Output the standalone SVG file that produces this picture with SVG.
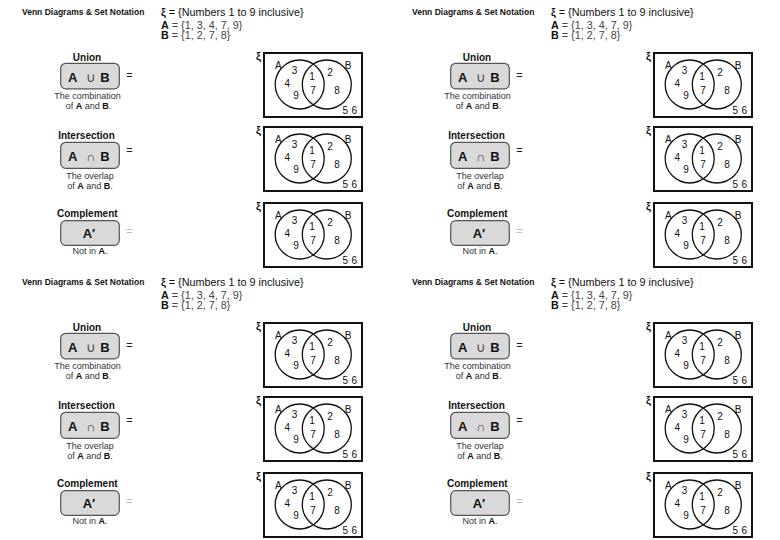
<svg xmlns="http://www.w3.org/2000/svg" width="780" height="540" viewBox="0 0 780 540">
<style>
text{font-family:"Liberation Sans",Arial,sans-serif}
.h{font-size:8.5px;font-weight:bold;fill:#111}
.set{font-size:10.8px;fill:#111}
.lt{fill:#444}
.b{font-weight:bold;fill:#111}
.t{font-size:10px;font-weight:bold;fill:#111;text-anchor:middle}
.box{fill:#d9d9d9;stroke:#555;stroke-width:1.2}
.op{font-size:13px;font-weight:bold;fill:#111;text-anchor:middle}
.sym{font-size:12.5px;fill:#444;text-anchor:middle}
.eq{font-size:11px;fill:#222;text-anchor:middle}
.eq2{font-size:11px;fill:#bbb;text-anchor:middle}
.cap{font-size:9px;fill:#333;text-anchor:middle}
.vb{fill:none;stroke:#111;stroke-width:2}
.vc{fill:none;stroke:#111;stroke-width:1.3}
.vt{font-size:10px;fill:#111;text-anchor:middle}
.xi{font-size:11px;font-weight:bold;fill:#111}
</style>
<defs>
<g id="vshape">
<rect class="vb" x="0" y="0" width="98" height="64"/>
<circle class="vc" cx="35.7" cy="31.5" r="24.5"/>
<circle class="vc" cx="62.8" cy="31.5" r="24.5"/>
</g>
</defs>
<rect width="780" height="540" fill="#fff"/>
<g id="connectors"/>

<!-- TILE 1 -->
<g id="t1">
<g id="t1-header">
<text class="h" x="22" y="14.5">Venn Diagrams &amp; Set Notation</text>
<text class="set" x="161" y="15.5"><tspan class="b">ξ</tspan> = {Numbers 1 to 9 inclusive}</text>
<text class="set" x="161" y="28.5"><tspan class="b">A</tspan><tspan class="lt"> = {1, 3, 4, 7, 9}</tspan></text>
<text class="set" x="161" y="39"><tspan class="b">B</tspan><tspan class="lt"> = {1, 2, 7, 8}</tspan></text>
</g>
<g id="t1-union">
<text class="t" x="87" y="60.5">Union</text>
<rect class="box" x="60.7" y="63.3" width="58.6" height="25.5" rx="5"/>
<text class="op" x="72.7" y="81.5">A</text><text class="sym" x="90.5" y="81.5">∪</text><text class="op" x="105" y="81.5">B</text>
<text class="eq" x="129.5" y="79">=</text>
<text class="cap" x="87.5" y="99">The combination</text>
<text class="cap" x="88.5" y="109">of <tspan class="b">A</tspan> and <tspan class="b">B</tspan>.</text>
</g>
<g id="t1-inter">
<text class="t" x="86.5" y="139">Intersection</text>
<rect class="box" x="60.7" y="142.3" width="58.6" height="26" rx="5"/>
<text class="op" x="72.7" y="161">A</text><text class="sym" x="90.5" y="161">∩</text><text class="op" x="105" y="161">B</text>
<text class="eq" x="129.5" y="153.7">=</text>
<text class="cap" x="90" y="179">The overlap</text>
<text class="cap" x="90" y="189">of <tspan class="b">A</tspan> and <tspan class="b">B</tspan>.</text>
</g>
<g id="t1-comp">
<text class="t" x="87.3" y="217.3">Complement</text>
<rect class="box" x="60.7" y="220.7" width="58.6" height="24.6" rx="5"/>
<text class="op" x="89" y="238">A′</text>
<text class="eq2" x="129.5" y="235.4">=</text>
<text class="cap" x="90" y="254.3">Not in <tspan class="b">A</tspan>.</text>
</g>
<g id="t1-venn1" transform="translate(264,53)">
<use href="#vshape"/>
<text class="xi" x="-8" y="6.5">ξ</text>
<text class="vt" x="14.3" y="16">A</text><text class="vt" x="30.5" y="21.3">3</text><text class="vt" x="48" y="27">1</text><text class="vt" x="66" y="22.7">2</text><text class="vt" x="84" y="16">B</text>
<text class="vt" x="23.3" y="34">4</text><text class="vt" x="49" y="40.5">7</text><text class="vt" x="73" y="41">8</text><text class="vt" x="32" y="45.5">9</text>
<text class="vt" x="81.2" y="61">5</text><text class="vt" x="90.2" y="61">6</text>
</g>
<g id="t1-venn2" transform="translate(264,127)">
<use href="#vshape"/>
<text class="xi" x="-8" y="6.5">ξ</text>
<text class="vt" x="14.3" y="16">A</text><text class="vt" x="30.5" y="21.3">3</text><text class="vt" x="48" y="27">1</text><text class="vt" x="66" y="22.7">2</text><text class="vt" x="84" y="16">B</text>
<text class="vt" x="23.3" y="34">4</text><text class="vt" x="49" y="40.5">7</text><text class="vt" x="73" y="41">8</text><text class="vt" x="32" y="45.5">9</text>
<text class="vt" x="81.2" y="61">5</text><text class="vt" x="90.2" y="61">6</text>
</g>
<g id="t1-venn3" transform="translate(264,203)">
<use href="#vshape"/>
<text class="xi" x="-8" y="6.5">ξ</text>
<text class="vt" x="14.3" y="16">A</text><text class="vt" x="30.5" y="21.3">3</text><text class="vt" x="48" y="27">1</text><text class="vt" x="66" y="22.7">2</text><text class="vt" x="84" y="16">B</text>
<text class="vt" x="23.3" y="34">4</text><text class="vt" x="49" y="40.5">7</text><text class="vt" x="73" y="41">8</text><text class="vt" x="32" y="45.5">9</text>
<text class="vt" x="81.2" y="61">5</text><text class="vt" x="90.2" y="61">6</text>
</g>
</g>

<!-- TILE 2 -->
<g id="t2" transform="translate(390,0)">
<g id="t2-header">
<text class="h" x="22" y="14.5">Venn Diagrams &amp; Set Notation</text>
<text class="set" x="161" y="15.5"><tspan class="b">ξ</tspan> = {Numbers 1 to 9 inclusive}</text>
<text class="set" x="161" y="28.5"><tspan class="b">A</tspan><tspan class="lt"> = {1, 3, 4, 7, 9}</tspan></text>
<text class="set" x="161" y="39"><tspan class="b">B</tspan><tspan class="lt"> = {1, 2, 7, 8}</tspan></text>
</g>
<g id="t2-union">
<text class="t" x="87" y="60.5">Union</text>
<rect class="box" x="60.7" y="63.3" width="58.6" height="25.5" rx="5"/>
<text class="op" x="72.7" y="81.5">A</text><text class="sym" x="90.5" y="81.5">∪</text><text class="op" x="105" y="81.5">B</text>
<text class="eq" x="129.5" y="79">=</text>
<text class="cap" x="87.5" y="99">The combination</text>
<text class="cap" x="88.5" y="109">of <tspan class="b">A</tspan> and <tspan class="b">B</tspan>.</text>
</g>
<g id="t2-inter">
<text class="t" x="86.5" y="139">Intersection</text>
<rect class="box" x="60.7" y="142.3" width="58.6" height="26" rx="5"/>
<text class="op" x="72.7" y="161">A</text><text class="sym" x="90.5" y="161">∩</text><text class="op" x="105" y="161">B</text>
<text class="eq" x="129.5" y="153.7">=</text>
<text class="cap" x="90" y="179">The overlap</text>
<text class="cap" x="90" y="189">of <tspan class="b">A</tspan> and <tspan class="b">B</tspan>.</text>
</g>
<g id="t2-comp">
<text class="t" x="87.3" y="217.3">Complement</text>
<rect class="box" x="60.7" y="220.7" width="58.6" height="24.6" rx="5"/>
<text class="op" x="89" y="238">A′</text>
<text class="eq2" x="129.5" y="235.4">=</text>
<text class="cap" x="90" y="254.3">Not in <tspan class="b">A</tspan>.</text>
</g>
<g id="t2-venn1" transform="translate(264,53)">
<use href="#vshape"/>
<text class="xi" x="-8" y="6.5">ξ</text>
<text class="vt" x="14.3" y="16">A</text><text class="vt" x="30.5" y="21.3">3</text><text class="vt" x="48" y="27">1</text><text class="vt" x="66" y="22.7">2</text><text class="vt" x="84" y="16">B</text>
<text class="vt" x="23.3" y="34">4</text><text class="vt" x="49" y="40.5">7</text><text class="vt" x="73" y="41">8</text><text class="vt" x="32" y="45.5">9</text>
<text class="vt" x="81.2" y="61">5</text><text class="vt" x="90.2" y="61">6</text>
</g>
<g id="t2-venn2" transform="translate(264,127)">
<use href="#vshape"/>
<text class="xi" x="-8" y="6.5">ξ</text>
<text class="vt" x="14.3" y="16">A</text><text class="vt" x="30.5" y="21.3">3</text><text class="vt" x="48" y="27">1</text><text class="vt" x="66" y="22.7">2</text><text class="vt" x="84" y="16">B</text>
<text class="vt" x="23.3" y="34">4</text><text class="vt" x="49" y="40.5">7</text><text class="vt" x="73" y="41">8</text><text class="vt" x="32" y="45.5">9</text>
<text class="vt" x="81.2" y="61">5</text><text class="vt" x="90.2" y="61">6</text>
</g>
<g id="t2-venn3" transform="translate(264,203)">
<use href="#vshape"/>
<text class="xi" x="-8" y="6.5">ξ</text>
<text class="vt" x="14.3" y="16">A</text><text class="vt" x="30.5" y="21.3">3</text><text class="vt" x="48" y="27">1</text><text class="vt" x="66" y="22.7">2</text><text class="vt" x="84" y="16">B</text>
<text class="vt" x="23.3" y="34">4</text><text class="vt" x="49" y="40.5">7</text><text class="vt" x="73" y="41">8</text><text class="vt" x="32" y="45.5">9</text>
<text class="vt" x="81.2" y="61">5</text><text class="vt" x="90.2" y="61">6</text>
</g>
</g>

<!-- TILE 3 -->
<g id="t3" transform="translate(0,270)">
<g id="t3-header">
<text class="h" x="22" y="14.5">Venn Diagrams &amp; Set Notation</text>
<text class="set" x="161" y="15.5"><tspan class="b">ξ</tspan> = {Numbers 1 to 9 inclusive}</text>
<text class="set" x="161" y="28.5"><tspan class="b">A</tspan><tspan class="lt"> = {1, 3, 4, 7, 9}</tspan></text>
<text class="set" x="161" y="39"><tspan class="b">B</tspan><tspan class="lt"> = {1, 2, 7, 8}</tspan></text>
</g>
<g id="t3-union">
<text class="t" x="87" y="60.5">Union</text>
<rect class="box" x="60.7" y="63.3" width="58.6" height="25.5" rx="5"/>
<text class="op" x="72.7" y="81.5">A</text><text class="sym" x="90.5" y="81.5">∪</text><text class="op" x="105" y="81.5">B</text>
<text class="eq" x="129.5" y="79">=</text>
<text class="cap" x="87.5" y="99">The combination</text>
<text class="cap" x="88.5" y="109">of <tspan class="b">A</tspan> and <tspan class="b">B</tspan>.</text>
</g>
<g id="t3-inter">
<text class="t" x="86.5" y="139">Intersection</text>
<rect class="box" x="60.7" y="142.3" width="58.6" height="26" rx="5"/>
<text class="op" x="72.7" y="161">A</text><text class="sym" x="90.5" y="161">∩</text><text class="op" x="105" y="161">B</text>
<text class="eq" x="129.5" y="153.7">=</text>
<text class="cap" x="90" y="179">The overlap</text>
<text class="cap" x="90" y="189">of <tspan class="b">A</tspan> and <tspan class="b">B</tspan>.</text>
</g>
<g id="t3-comp">
<text class="t" x="87.3" y="217.3">Complement</text>
<rect class="box" x="60.7" y="220.7" width="58.6" height="24.6" rx="5"/>
<text class="op" x="89" y="238">A′</text>
<text class="eq2" x="129.5" y="235.4">=</text>
<text class="cap" x="90" y="254.3">Not in <tspan class="b">A</tspan>.</text>
</g>
<g id="t3-venn1" transform="translate(264,53)">
<use href="#vshape"/>
<text class="xi" x="-8" y="6.5">ξ</text>
<text class="vt" x="14.3" y="16">A</text><text class="vt" x="30.5" y="21.3">3</text><text class="vt" x="48" y="27">1</text><text class="vt" x="66" y="22.7">2</text><text class="vt" x="84" y="16">B</text>
<text class="vt" x="23.3" y="34">4</text><text class="vt" x="49" y="40.5">7</text><text class="vt" x="73" y="41">8</text><text class="vt" x="32" y="45.5">9</text>
<text class="vt" x="81.2" y="61">5</text><text class="vt" x="90.2" y="61">6</text>
</g>
<g id="t3-venn2" transform="translate(264,127)">
<use href="#vshape"/>
<text class="xi" x="-8" y="6.5">ξ</text>
<text class="vt" x="14.3" y="16">A</text><text class="vt" x="30.5" y="21.3">3</text><text class="vt" x="48" y="27">1</text><text class="vt" x="66" y="22.7">2</text><text class="vt" x="84" y="16">B</text>
<text class="vt" x="23.3" y="34">4</text><text class="vt" x="49" y="40.5">7</text><text class="vt" x="73" y="41">8</text><text class="vt" x="32" y="45.5">9</text>
<text class="vt" x="81.2" y="61">5</text><text class="vt" x="90.2" y="61">6</text>
</g>
<g id="t3-venn3" transform="translate(264,203)">
<use href="#vshape"/>
<text class="xi" x="-8" y="6.5">ξ</text>
<text class="vt" x="14.3" y="16">A</text><text class="vt" x="30.5" y="21.3">3</text><text class="vt" x="48" y="27">1</text><text class="vt" x="66" y="22.7">2</text><text class="vt" x="84" y="16">B</text>
<text class="vt" x="23.3" y="34">4</text><text class="vt" x="49" y="40.5">7</text><text class="vt" x="73" y="41">8</text><text class="vt" x="32" y="45.5">9</text>
<text class="vt" x="81.2" y="61">5</text><text class="vt" x="90.2" y="61">6</text>
</g>
</g>

<!-- TILE 4 -->
<g id="t4" transform="translate(390,270)">
<g id="t4-header">
<text class="h" x="22" y="14.5">Venn Diagrams &amp; Set Notation</text>
<text class="set" x="161" y="15.5"><tspan class="b">ξ</tspan> = {Numbers 1 to 9 inclusive}</text>
<text class="set" x="161" y="28.5"><tspan class="b">A</tspan><tspan class="lt"> = {1, 3, 4, 7, 9}</tspan></text>
<text class="set" x="161" y="39"><tspan class="b">B</tspan><tspan class="lt"> = {1, 2, 7, 8}</tspan></text>
</g>
<g id="t4-union">
<text class="t" x="87" y="60.5">Union</text>
<rect class="box" x="60.7" y="63.3" width="58.6" height="25.5" rx="5"/>
<text class="op" x="72.7" y="81.5">A</text><text class="sym" x="90.5" y="81.5">∪</text><text class="op" x="105" y="81.5">B</text>
<text class="eq" x="129.5" y="79">=</text>
<text class="cap" x="87.5" y="99">The combination</text>
<text class="cap" x="88.5" y="109">of <tspan class="b">A</tspan> and <tspan class="b">B</tspan>.</text>
</g>
<g id="t4-inter">
<text class="t" x="86.5" y="139">Intersection</text>
<rect class="box" x="60.7" y="142.3" width="58.6" height="26" rx="5"/>
<text class="op" x="72.7" y="161">A</text><text class="sym" x="90.5" y="161">∩</text><text class="op" x="105" y="161">B</text>
<text class="eq" x="129.5" y="153.7">=</text>
<text class="cap" x="90" y="179">The overlap</text>
<text class="cap" x="90" y="189">of <tspan class="b">A</tspan> and <tspan class="b">B</tspan>.</text>
</g>
<g id="t4-comp">
<text class="t" x="87.3" y="217.3">Complement</text>
<rect class="box" x="60.7" y="220.7" width="58.6" height="24.6" rx="5"/>
<text class="op" x="89" y="238">A′</text>
<text class="eq2" x="129.5" y="235.4">=</text>
<text class="cap" x="90" y="254.3">Not in <tspan class="b">A</tspan>.</text>
</g>
<g id="t4-venn1" transform="translate(264,53)">
<use href="#vshape"/>
<text class="xi" x="-8" y="6.5">ξ</text>
<text class="vt" x="14.3" y="16">A</text><text class="vt" x="30.5" y="21.3">3</text><text class="vt" x="48" y="27">1</text><text class="vt" x="66" y="22.7">2</text><text class="vt" x="84" y="16">B</text>
<text class="vt" x="23.3" y="34">4</text><text class="vt" x="49" y="40.5">7</text><text class="vt" x="73" y="41">8</text><text class="vt" x="32" y="45.5">9</text>
<text class="vt" x="81.2" y="61">5</text><text class="vt" x="90.2" y="61">6</text>
</g>
<g id="t4-venn2" transform="translate(264,127)">
<use href="#vshape"/>
<text class="xi" x="-8" y="6.5">ξ</text>
<text class="vt" x="14.3" y="16">A</text><text class="vt" x="30.5" y="21.3">3</text><text class="vt" x="48" y="27">1</text><text class="vt" x="66" y="22.7">2</text><text class="vt" x="84" y="16">B</text>
<text class="vt" x="23.3" y="34">4</text><text class="vt" x="49" y="40.5">7</text><text class="vt" x="73" y="41">8</text><text class="vt" x="32" y="45.5">9</text>
<text class="vt" x="81.2" y="61">5</text><text class="vt" x="90.2" y="61">6</text>
</g>
<g id="t4-venn3" transform="translate(264,203)">
<use href="#vshape"/>
<text class="xi" x="-8" y="6.5">ξ</text>
<text class="vt" x="14.3" y="16">A</text><text class="vt" x="30.5" y="21.3">3</text><text class="vt" x="48" y="27">1</text><text class="vt" x="66" y="22.7">2</text><text class="vt" x="84" y="16">B</text>
<text class="vt" x="23.3" y="34">4</text><text class="vt" x="49" y="40.5">7</text><text class="vt" x="73" y="41">8</text><text class="vt" x="32" y="45.5">9</text>
<text class="vt" x="81.2" y="61">5</text><text class="vt" x="90.2" y="61">6</text>
</g>
</g>
</svg>
